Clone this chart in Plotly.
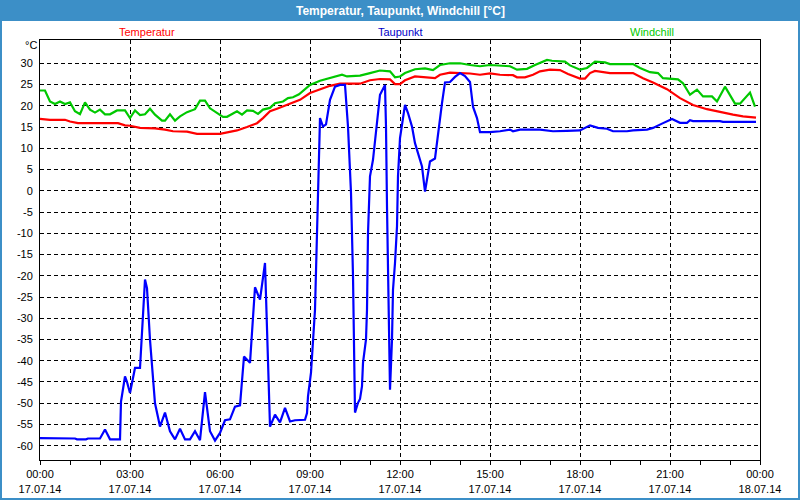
import pandas as pd
import plotly.graph_objects as go

# minutes after midnight (17.07.14) and values in °C
temp_min = [0, 20, 50, 60, 76, 156, 170, 180, 200, 230, 250, 266, 294, 314, 360, 374, 394, 414, 434, 446,
            460, 474, 494, 506, 520, 540, 560, 580, 600, 640, 660, 680, 700, 710, 720, 730, 750, 780, 790, 800,
            820, 840, 860, 880, 900, 920, 946, 954, 970, 986, 1000, 1020, 1040, 1056, 1080, 1090, 1100, 1110,
            1140, 1186, 1206, 1226, 1254, 1280, 1306, 1334, 1360, 1386, 1406, 1432]
temp_val = [16.9, 16.7, 16.7, 16.3, 15.9, 15.9, 15.4, 15.3, 14.8, 14.7, 14.4, 14.0, 13.9, 13.4, 13.4, 13.7, 14.2, 15.0, 15.9, 17.1,
            18.7, 19.3, 20.2, 20.9, 21.4, 23.0, 23.9, 24.7, 25.2, 25.2, 26.0, 26.3, 26.2, 25.1, 25.1, 26.0, 26.9, 26.7, 26.5, 27.3,
            27.8, 27.7, 27.6, 27.3, 27.6, 27.3, 27.2, 26.7, 26.7, 27.3, 28.1, 28.5, 28.4, 27.5, 26.4, 26.4, 27.7, 28.2,
            27.7, 27.7, 26.5, 25.5, 23.9, 21.8, 20.2, 19.2, 18.5, 17.9, 17.5, 17.2]

dew_min = [0, 40, 44, 70, 74, 92, 96, 120, 130, 140, 160, 162, 170, 174, 180, 190, 200, 210, 214, 220,
           230, 240, 250, 260, 270, 280, 290, 300, 310, 320, 330, 340, 350, 360, 370, 380, 390, 400, 408, 420,
           430, 440, 450, 460, 470, 480, 490, 500, 510, 530, 534, 536, 542, 546, 550, 554, 556, 560, 566, 572,
           580, 590, 600, 610, 616, 622, 626, 628, 630, 636, 640, 644, 646, 652, 654, 656, 660, 666, 674, 680,
           690, 692, 694, 696, 698, 700, 704, 706, 710, 714, 716, 720, 724, 730, 736, 744, 750, 756, 764, 770,
           776, 780, 790, 796, 804, 810, 820, 830, 840, 850, 860, 866, 874, 880, 900, 920, 940, 946, 960, 1000,
           1026, 1054, 1080, 1100, 1116, 1134, 1146, 1174, 1186, 1214, 1226, 1244, 1264, 1280, 1294, 1300, 1306,
           1360, 1366, 1432]
dew_val = [-58.2, -58.2, -58.3, -58.3, -58.5, -58.5, -58.3, -58.3, -56.2, -58.5, -58.5, -49.6, -43.7, -45.0, -47.6, -41.7, -41.7, -20.9, -22.9, -35.1,
           -50.0, -55.5, -52.2, -56.6, -58.5, -56.0, -58.5, -58.5, -56.6, -58.7, -47.4, -56.6, -58.8, -57.0, -54.0, -53.8, -50.8, -50.5, -39.0, -40.5,
           -22.7, -25.6, -17.0, -55.5, -52.7, -54.5, -51.1, -54.3, -54.0, -53.9, -52.3, -48.4, -42.8, -35.1, -28.0, -10.0, -0.5, 17.1, 15.1, 15.6,
           21.4, 24.5, 24.9, 24.9, 15.1, -0.5, -20.0, -39.4, -52.2, -49.9, -49.0, -46.0, -40.5, -35.0, -28.0, -10.0, 3.4, 7.3, 15.6, 22.6,
           24.9, 15.0, -3.7, -18.6, -28.5, -46.8, -35.0, -23.3, -17.0, -8.4, 3.4, 12.4, 15.5, 20.2, 18.3, 15.1, 11.2, 8.9, 5.7, -0.2,
           4.5, 6.9, 7.6, 13.6, 20.6, 25.5, 25.6, 26.8, 27.7, 27.0, 25.6, 19.8, 17.1, 13.8, 13.8, 14.0, 14.4, 14.0, 14.4, 14.4,
           14.0, 14.1, 14.2, 15.4, 14.8, 14.6, 14.0, 14.0, 14.2, 14.4, 14.8, 15.8, 16.9, 16.0, 16.0, 16.6, 16.4,
           16.4, 16.2, 16.2]

wind_min = [0, 10, 20, 30, 40, 50, 60, 70, 80, 90, 100, 110, 120, 130, 140, 154, 170, 180, 190, 200,
            210, 220, 230, 244, 250, 260, 270, 280, 294, 310, 320, 330, 340, 354, 366, 374, 384, 394, 404, 414,
            426, 436, 446, 460, 470, 486, 496, 506, 518, 540, 560, 580, 590, 604, 614, 640, 660, 680, 700, 710,
            720, 730, 750, 770, 786, 800, 820, 840, 860, 880, 900, 940, 954, 974, 990, 1014, 1024, 1050, 1060, 1080,
            1094, 1110, 1130, 1140, 1186, 1200, 1220, 1236, 1246, 1266, 1276, 1286, 1300, 1314, 1326, 1344, 1354, 1370,
            1390, 1400, 1420, 1430]
wind_val = [23.6, 23.6, 21.0, 20.4, 21.0, 20.4, 20.8, 18.7, 18.0, 20.8, 19.1, 18.4, 19.1, 18.0, 18.0, 18.9, 18.9, 17.1, 18.9, 17.8,
            18.0, 19.3, 17.9, 16.5, 16.5, 18.0, 16.5, 17.5, 18.5, 19.2, 21.2, 21.2, 19.4, 18.3, 17.4, 17.4, 18.0, 18.7, 17.9, 18.9,
            18.8, 18.1, 19.1, 19.5, 20.6, 21.0, 21.8, 22.0, 22.7, 24.9, 25.9, 26.5, 26.7, 27.3, 26.9, 27.1, 27.7, 28.3, 28.1, 26.7,
            26.9, 27.7, 28.6, 28.8, 28.4, 29.6, 30.0, 30.0, 29.6, 29.3, 29.6, 29.3, 28.5, 28.7, 29.6, 30.8, 30.6, 30.4, 29.5, 28.5,
            28.9, 30.4, 30.2, 29.8, 29.8, 28.9, 27.9, 27.7, 26.5, 26.2, 26.2, 25.3, 22.6, 23.8, 22.2, 22.2, 21.0, 24.5,
            20.5, 20.5, 23.1, 19.8]

y_ticks = list(range(-60, 31, 5))
series_names = ["Temperatur", "Taupunkt", "Windchill"]
series_colors = ["#ff0000", "#0000ff", "#00c800"]
title_text = "Temperatur, Taupunkt, Windchill [°C]"

day0 = pd.Timestamp("2014-07-17")


def to_time(mins):
    return [day0 + pd.Timedelta(minutes=m) for m in mins]


fig = go.Figure()
for name, mins, vals, col in [
    (series_names[0], temp_min, temp_val, series_colors[0]),
    (series_names[1], dew_min, dew_val, series_colors[1]),
    (series_names[2], wind_min, wind_val, series_colors[2]),
]:
    fig.add_trace(go.Scatter(x=to_time(mins), y=vals, mode="lines", name=name,
                             line=dict(color=col, width=2.2), showlegend=False))

W, H = 800, 500
L, R, T, B = 40, 40, 40, 40
pw, ph = W - L - R, H - T - B


def px_x(p):
    return (p - L) / pw


def px_y(p):
    return 1 - (p - T) / ph


font = "Liberation Sans"
fig.update_layout(
    width=W, height=H,
    margin=dict(l=L, r=R, t=T, b=B, autoexpand=False),
    paper_bgcolor="white", plot_bgcolor="white",
    font=dict(family=font, size=11, color="black"),
    xaxis=dict(
        type="date", automargin=False,
        range=[day0, day0 + pd.Timedelta(hours=24)],
        tickmode="linear", tick0=day0, dtick=3 * 3600000,
        tickformat="%H:%M<br>%d.%m.%y",
        ticks="outside", ticklen=4, tickcolor="black", tickwidth=1,
        minor=dict(dtick=3600000, tick0=day0, ticks="outside", ticklen=4, tickcolor="black", showgrid=False),
        showgrid=True, gridcolor="black", gridwidth=1, griddash="4px,3px",
        showline=True, mirror=True, linecolor="black", linewidth=1,
        zeroline=False, fixedrange=True,
    ),
    yaxis=dict(
        automargin=False,
        range=[-63.36, 35.48],
        tickmode="array", tickvals=y_ticks, ticktext=[str(v) for v in y_ticks],
        ticks="", ticklabelstandoff=4,
        showgrid=True, gridcolor="black", gridwidth=1, griddash="4px,3px",
        showline=True, mirror=True, linecolor="black", linewidth=1,
        zeroline=False, fixedrange=True,
    ),
    shapes=[
        dict(type="rect", xref="paper", yref="paper", layer="above",
             x0=px_x(0), x1=px_x(W), y0=px_y(21), y1=px_y(0),
             fillcolor="#3c8fc7", line=dict(width=0)),
        dict(type="rect", xref="paper", yref="paper", layer="above",
             x0=px_x(1), x1=px_x(W - 1), y0=px_y(H - 1), y1=px_y(1),
             fillcolor="rgba(0,0,0,0)", line=dict(color="#3c8fc7", width=2)),
    ],
    annotations=[
        dict(text=title_text, xref="paper", yref="paper", x=px_x(400), y=px_y(11),
             xanchor="center", yanchor="middle", showarrow=False,
             font=dict(family=font, size=12, color="white", weight="bold")),
        dict(text=series_names[0], xref="paper", yref="paper", x=px_x(147), y=px_y(32),
             xanchor="center", yanchor="middle", showarrow=False, font=dict(color=series_colors[0], size=11)),
        dict(text=series_names[1], xref="paper", yref="paper", x=px_x(400), y=px_y(32),
             xanchor="center", yanchor="middle", showarrow=False, font=dict(color="#0000c8", size=11)),
        dict(text=series_names[2], xref="paper", yref="paper", x=px_x(652), y=px_y(32),
             xanchor="center", yanchor="middle", showarrow=False, font=dict(color=series_colors[2], size=11)),
        dict(text="°C", xref="paper", yref="paper", x=px_x(31), y=px_y(45),
             xanchor="center", yanchor="middle", showarrow=False, font=dict(size=11)),
    ],
)

fig.write_html("out.html", config={"displayModeBar": False},
               post_script="document.body.style.margin='0';")
